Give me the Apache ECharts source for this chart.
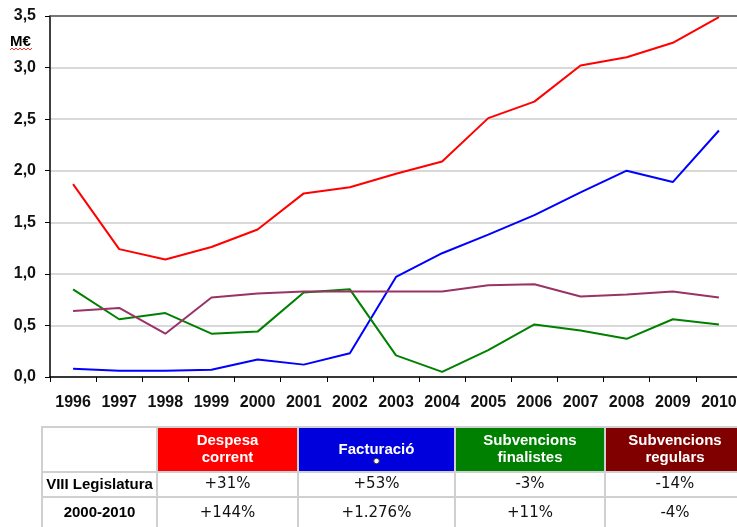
<!DOCTYPE html>
<html>
<head>
<meta charset="utf-8">
<script src="https://cdn.jsdelivr.net/npm/echarts@6/dist/echarts.min.js"></script>
<style>
html,body{margin:0;padding:0;background:#fff;}
#chart{width:737px;height:527px;}
</style>
</head>
<body>
<div id="chart"></div>
<script>
var years = ['1996','1997','1998','1999','2000','2001','2002','2003','2004','2005','2006','2007','2008','2009','2010'];
var despesaCorrent = [1.87,1.24,1.14,1.26,1.43,1.78,1.84,1.97,2.09,2.51,2.67,3.02,3.10,3.24,3.49];
var facturacio = [0.08,0.06,0.06,0.07,0.17,0.12,0.23,0.97,1.20,1.38,1.57,1.79,2.00,1.89,2.39];
var subvFinalistes = [0.85,0.56,0.62,0.42,0.44,0.82,0.85,0.21,0.05,0.26,0.51,0.45,0.37,0.56,0.51];
var subvRegulars = [0.64,0.67,0.42,0.77,0.81,0.83,0.83,0.83,0.83,0.89,0.90,0.78,0.80,0.83,0.77];

var tableHeaders = ['Despesa\ncorrent','Facturació','Subvencions\nfinalistes','Subvencions\nregulars'];
var tableRowLabels = ['VIII Legislatura','2000-2010'];
var rowLegislatura = ['+31%','+53%','-3%','-14%'];
var row2000_2010 = ['+144%','+1.276%','+11%','-4%'];

var seriesColors = ['#FF0000','#0000FF','#008000','#993366'];
var headerColors = ['#FF0000','#0000DD','#008000','#800000'];

var font = "'Liberation Sans', Arial, sans-serif";

var chart = echarts.init(document.getElementById('chart'));

// table graphics
var colEdges = [42,157,298,455,605,745];
var rowEdges = [427,472,497,532];
var border = '#d0d0d0';
var graphics = [];
var tableRows = [rowLegislatura, row2000_2010];
for (var r = 0; r < 3; r++) {
  for (var c = 0; c < 5; c++) {
    var x0 = colEdges[c], x1 = colEdges[c+1], y0 = rowEdges[r], y1 = rowEdges[r+1];
    var fill = (r === 0 && c > 0) ? headerColors[c-1] : '#ffffff';
    graphics.push({type:'rect', z:1, shape:{x:x0,y:y0,width:x1-x0,height:y1-y0},
      style:{fill:fill, stroke:border, lineWidth:2}});
    var txt = '', style = {};
    if (r === 0 && c > 0) {
      txt = tableHeaders[c-1];
      style = {fill:'#fff', font:'bold 15px ' + font, lineHeight:17};
    } else if (r > 0 && c === 0) {
      txt = tableRowLabels[r-1];
      style = {fill:'#000', font:'bold 15px ' + font};
    } else if (r > 0) {
      txt = tableRows[r-1][c-1];
      style = {fill:'#111', font:'15px ' + "'DejaVu Sans', Verdana, sans-serif"};
    }
    if (txt) {
      style.text = txt;
      style.x = (x0 + x1) / 2;
      style.y = (r === 2) ? 513 : (y0 + y1) / 2;
      style.align = 'center';
      style.verticalAlign = 'middle';
      graphics.push({type:'text', z:2, style:style});
    }
  }
}
// small dot under header
graphics.push({type:'circle', z:3, shape:{cx:376.5, cy:461, r:2.8}, style:{fill:'#fff', stroke:'#333', lineWidth:1}});
// unit label
graphics.push({type:'text', z:2, style:{text:'M€', x:10, y:42, verticalAlign:'middle', fill:'#000', font:'bold 15px ' + font}});
var sq = [];
for (var i = 0; i <= 11; i++) { sq.push([10 + i*2, (i % 2 === 0) ? 50 : 48]); }
graphics.push({type:'polyline', z:2, shape:{points:sq}, style:{stroke:'#ff3030', lineWidth:1, fill:null}});

function mk(name, data, color) {
  return {name:name, type:'line', data:data, symbol:'none', smooth:false,
    lineStyle:{color:color, width:2}, itemStyle:{color:color}, z:3};
}

chart.setOption({
  animation:false,
  backgroundColor:'#ffffff',
  grid:{left:50, top:16, width:692, bottom:150, show:false, outerBoundsMode:'none', containLabel:false},
  xAxis:[{type:'category', data:years, boundaryGap:true,
    axisLine:{lineStyle:{color:'#000', width:1.5}},
    axisTick:{show:true, length:5, lineStyle:{color:'#000'}},
    axisLabel:{color:'#111', fontWeight:'bold', fontSize:16, fontFamily:font, margin:18, interval:0}},
    {type:'category', data:years, position:'top', boundaryGap:true,
    axisLine:{show:true, lineStyle:{color:'#555', width:1.5}},
    axisTick:{show:false}, axisLabel:{show:false}, splitLine:{show:false}}],
  yAxis:{type:'value', min:0, max:3.5, interval:0.5,
    axisLine:{show:true, lineStyle:{color:'#000', width:1.5}},
    axisTick:{show:true, length:5, lineStyle:{color:'#000'}},
    splitLine:{lineStyle:{color:'#cccccc', width:1.5}},
    axisLabel:{color:'#111', fontWeight:'bold', fontSize:16, fontFamily:font, margin:14,
      formatter:function(v){return v.toFixed(1).replace('.', ',');}}},
  series:[
    mk('Despesa corrent', despesaCorrent, seriesColors[0]),
    mk('Facturació', facturacio, seriesColors[1]),
    mk('Subvencions finalistes', subvFinalistes, seriesColors[2]),
    mk('Subvencions regulars', subvRegulars, seriesColors[3])
  ],
  graphic:graphics
});
</script>
</body>
</html>
